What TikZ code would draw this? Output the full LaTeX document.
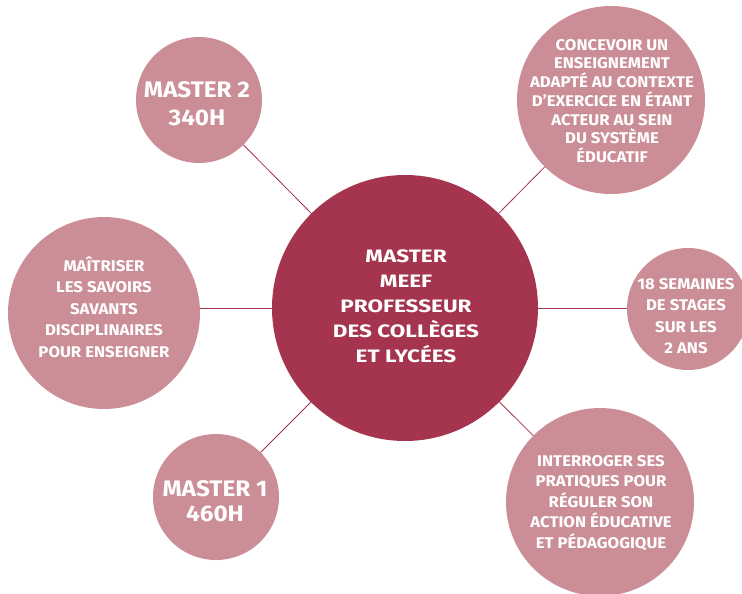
\documentclass[tikz,border=0pt]{standalone}
\usepackage{fontspec}
\setmainfont{Fira Sans}
\newfontfamily\outerfont{Fira Sans}[FakeStretch=1.08]
\newfontfamily\centerfont{Fira Sans}[FakeStretch=1.25]
\usetikzlibrary{backgrounds}
\definecolor{darkrose}{HTML}{A5344E}
\definecolor{lightrose}{HTML}{CB8E97}
\tikzset{
  outercirc/.style={circle, fill=lightrose, draw=none, inner sep=0pt},
  centercirc/.style={circle, fill=darkrose, draw=none, inner sep=0pt},
  smalltxt/.style={text=white, align=center, inner sep=0pt, font=\outerfont\bfseries\fontsize{15.5}{20.5}\selectfont},
  bigtxt/.style={text=white, align=center, inner sep=0pt, font=\outerfont\bfseries\fontsize{22.5}{27.5}\selectfont},
  centertxt/.style={text=white, align=center, inner sep=0pt, font=\centerfont\bfseries\fontsize{18}{25}\selectfont},
  connector/.style={draw=darkrose, line width=0.8pt}
}
\begin{document}
\begin{tikzpicture}[x=1pt,y=-1pt]
\useasboundingbox (0,0) rectangle (742,594);
\clip (0,0) rectangle (742,594);
% circles
\node[centercirc, minimum size=266pt] (c) at (405,308) {};
\node[outercirc, minimum size=126pt] (m2) at (199,100) {};
\node[outercirc, minimum size=188pt] (conc) at (611,100) {};
\node[outercirc, minimum size=192pt] (mait) at (104,313) {};
\node[outercirc, minimum size=122pt] (sem) at (688,309) {};
\node[outercirc, minimum size=126pt] (m1) at (216,497) {};
\node[outercirc, minimum size=188pt] (inter) at (600,502) {};
% connectors
\begin{scope}[on background layer]
\draw[connector] (c.center) -- (m2.center);
\draw[connector] (c.center) -- (conc.center);
\draw[connector] (c.center) -- (mait.center |- c.center);
\draw[connector] (c.center) -- (sem.center |- c.center);
\draw[connector] (c.center) -- (m1.center);
\draw[connector] (c.center) -- (inter.center);
\end{scope}
% texts
\node[centertxt] (ct) at (406,306) {MASTER\\MEEF\\PROFESSEUR\\DES COLLÈGES\\ET LYCÉES};
\node[bigtxt] (m2t) at (197,103.5) {MASTER 2\\340H};
\node[smalltxt, font=\outerfont\bfseries\fontsize{15.5}{18.7}\selectfont] (conct) at (612,101) {CONCEVOIR UN\\ENSEIGNEMENT\\ADAPTÉ AU CONTEXTE\\D’EXERCICE EN ÉTANT\\ACTEUR AU SEIN\\DU SYSTÈME\\ÉDUCATIF};
\node[smalltxt, font=\outerfont\bfseries\fontsize{15.5}{21.5}\selectfont] (maitt) at (104,307) {MAÎTRISER\\LES SAVOIRS\\SAVANTS\\DISCIPLINAIRES\\POUR ENSEIGNER};
\node[smalltxt, font=\outerfont\bfseries\fontsize{15.5}{21.5}\selectfont] (semt) at (686,316) {18 SEMAINES\\DE STAGES\\SUR LES\\2 ANS};
\node[bigtxt, font=\outerfont\bfseries\fontsize{22.5}{25.5}\selectfont] (m1t) at (215,501) {MASTER 1\\460H};
\node[smalltxt] (intert) at (601,503) {INTERROGER SES\\PRATIQUES POUR\\RÉGULER SON\\ACTION ÉDUCATIVE\\ET PÉDAGOGIQUE};
\end{tikzpicture}
\end{document}
